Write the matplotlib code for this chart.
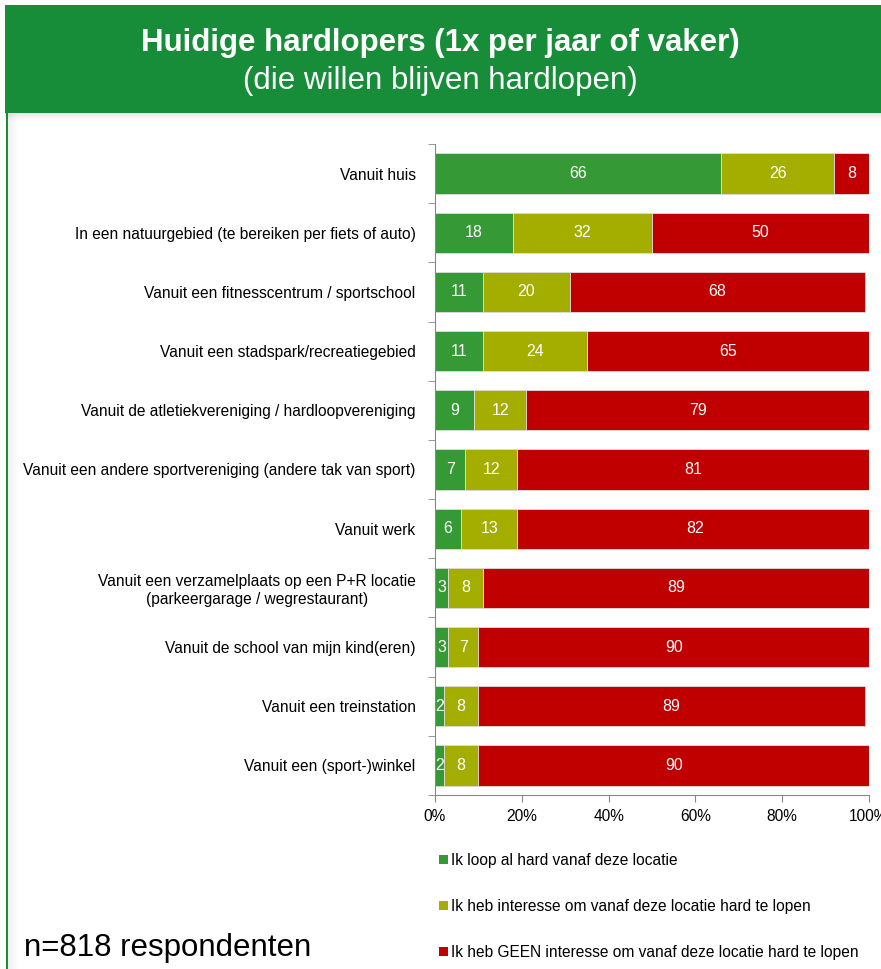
import numpy as np
import matplotlib.pyplot as plt
from matplotlib.patches import Rectangle, Patch

plt.rcParams['font.family'] = ['Liberation Sans', 'DejaVu Sans']

# locaties (van boven naar beneden) en percentages per antwoord
locaties = [
    "Vanuit huis",
    "In een natuurgebied (te bereiken per fiets of auto)",
    "Vanuit een fitnesscentrum / sportschool",
    "Vanuit een stadspark/recreatiegebied",
    "Vanuit de atletiekvereniging / hardloopvereniging",
    "Vanuit een andere sportvereniging (andere tak van sport)",
    "Vanuit werk",
    "Vanuit een verzamelplaats op een P+R locatie\n(parkeergarage / wegrestaurant)",
    "Vanuit de school van mijn kind(eren)",
    "Vanuit een treinstation",
    "Vanuit een (sport-)winkel",
]
loop_al = [66, 18, 11, 11, 9, 7, 6, 3, 3, 2, 2]
interesse = [26, 32, 20, 24, 12, 12, 13, 8, 7, 8, 8]
geen_interesse = [8, 50, 68, 65, 79, 81, 82, 89, 90, 89, 90]

reeksen = [
    ("Ik loop al hard vanaf deze locatie", loop_al, "#359A35"),
    ("Ik heb interesse om vanaf deze locatie hard te lopen", interesse, "#A4AE00"),
    ("Ik heb GEEN interesse om vanaf deze locatie hard te lopen", geen_interesse, "#C00000"),
]
xticks = [0, 20, 40, 60, 80, 100]

W, H = 881, 969
fig = plt.figure(figsize=(W / 100, H / 100), dpi=100)

# groene kop met schaduw
for i in range(8):
    fig.patches.append(Rectangle((5 / W, 1 - (113 + i) / H), 1, 1 / H,
                                 transform=fig.transFigure, color="black",
                                 alpha=0.10 * (1 - i / 8), lw=0))
fig.patches.append(Rectangle((5 / W, 1 - 113 / H), 1, 108 / H,
                             transform=fig.transFigure, color="#178D3A", lw=0))
fig.text(0.5, 1 - 43 / H, "Huidige hardlopers (1x per jaar of vaker)",
         ha="center", va="center", color="white", fontsize=22.5, fontweight="bold")
fig.text(0.5, 1 - 81 / H, "(die willen blijven hardlopen)",
         ha="center", va="center", color="white", fontsize=22.5)

# linker rand met schaduw
for i in range(10):
    fig.patches.append(Rectangle(((8 + i) / W, 0), 1 / W, 1 - 113 / H,
                                 transform=fig.transFigure, color="black",
                                 alpha=0.06 * (1 - i / 10), lw=0))
fig.patches.append(Rectangle((6 / W, 0), 2 / W, 1 - 113 / H,
                             transform=fig.transFigure, color="#178D3A", lw=0))

ax = fig.add_axes([435 / W, 1 - 795 / H, 434 / W, 651 / H])
y = np.arange(len(locaties))
left = np.zeros(len(locaties))
for naam, waarden, kleur in reeksen:
    waarden = np.array(waarden, dtype=float)
    bars = ax.barh(y, waarden, left=left, height=0.68, color=kleur,
                   edgecolor="#dddddd", linewidth=0.6, label=naam)
    for b, v in zip(bars, waarden):
        ax.text(b.get_x() + b.get_width() / 2, b.get_y() + b.get_height() / 2,
                f"{v:.0f}", ha="center", va="center", color="white", fontsize=11.5)
    left += waarden

ax.set_xlim(0, 100)
ax.set_ylim(len(locaties) - 0.5, -0.5)
ax.set_yticks(y)
ax.set_yticklabels(locaties, fontsize=11.2, ha="right", multialignment="center")
ax.set_yticks(np.arange(-0.5, len(locaties)), minor=True)
ax.tick_params(axis="y", which="major", length=0, pad=14)
ax.tick_params(axis="y", which="minor", length=5, color="#888888", direction="out")
ax.set_xticks(xticks)
ax.set_xticklabels([f"{t}%" for t in xticks], fontsize=11.2)
ax.tick_params(axis="x", length=5, color="#888888", pad=5)
for s in ["top", "right"]:
    ax.spines[s].set_visible(False)
for s in ["left", "bottom"]:
    ax.spines[s].set_color("#888888")

handles = [Patch(facecolor=k, edgecolor="none") for _, _, k in reeksen]
fig.legend(handles, [n for n, _, _ in reeksen], loc="upper left",
           bbox_to_anchor=(439 / W, 1 - 853 / H), frameon=False, fontsize=11.2,
           handlelength=0.55, handleheight=0.55, handletextpad=0.2,
           labelspacing=2.0, borderaxespad=0, borderpad=0)

fig.text(24 / W, 1 - 948 / H, "n=818 respondenten", ha="left", va="center",
         fontsize=22.5)

fig.savefig("out.png", dpi=100)
